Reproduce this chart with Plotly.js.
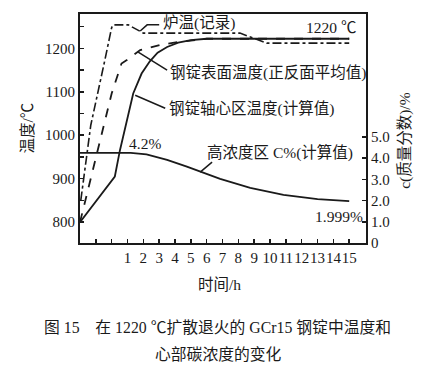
<!DOCTYPE html>
<html>
<head>
<meta charset="utf-8">
<script src="https://cdn.plot.ly/plotly-3.0.1.min.js"></script>
<style>html,body{margin:0;padding:0;background:#fff;}#chart{width:430px;height:369px;}</style>
</head>
<body>
<div id="chart"></div>
<script>
// Time (h)
const furnaceTime = [-1.95, -1.32, -0.43, 0.0, 0.1, 1.05, 2.0, 8.1, 9.8, 15.0];
const furnaceTemp = [850, 1023, 1173, 1248, 1254, 1254, 1235, 1235, 1212, 1212];

const surfaceTime = [-2.0, 0.0, 0.62, 0.96, 1.8, 3.06, 4.3, 6.0, 15.0];
const surfaceTemp = [800, 1096, 1165, 1173, 1196, 1208, 1215, 1222, 1222];

const coreTime = [-2.0, 0.2, 0.52, 0.94, 1.36, 1.89, 2.41, 2.9, 3.5, 4.2, 5.0, 6.0, 15.0];
const coreTemp = [800, 905, 965, 1034, 1096, 1142, 1170, 1190, 1203, 1213, 1219, 1222, 1222];

const carbonTime = [-2.0, 1.2, 2.2, 3.5, 4.75, 5.6, 6.85, 8.75, 10.85, 13.0, 15.0];
const carbonPct  = [4.25, 4.25, 4.18, 3.92, 3.6, 3.38, 3.02, 2.6, 2.27, 2.07, 1.97];

const xTickVals = [-1,0,1,2,3,4,5,6,7,8,9,10,11,12,13,14,15];
const xTickText = ['','','1','2','3','4','5','6','7','8','9','10','11','12','13','14','15'];
const yTickVals = [800,850,900,950,1000,1050,1100,1150,1200,1250];
const yTickText = ['800','','900','','1000','','1100','','1200',''];
const y2TickVals = [0,1,2,3,4,5];
const y2TickText = ['0','1.0','2.0','3.0','4.0','5.0'];

const FONT = "'Liberation Serif', 'Noto Sans CJK SC', serif";
const INK = '#1a1a1a';

const traces = [
  {x: furnaceTime, y: furnaceTemp, mode:'lines', line:{color:INK, width:1.6, dash:'dashdot'}, name:'炉温(记录)'},
  {x: surfaceTime, y: surfaceTemp, mode:'lines', line:{color:INK, width:1.8, dash:'dash'}, name:'钢锭表面温度(正反面平均值)'},
  {x: coreTime, y: coreTemp, mode:'lines', line:{color:INK, width:1.8}, name:'钢锭轴心区温度(计算值)'},
  {x: carbonTime, y: carbonPct, yaxis:'y2', mode:'lines', line:{color:INK, width:1.8}, name:'高浓度区 C%(计算值)'}
];

const tf = {family: FONT, size: 15.5, color: INK};
function txt(x, y, text, yref, xanchor){
  return {x:x, y:y, xref:'x', yref:yref||'y', text:text, showarrow:false, xanchor:xanchor||'left', yanchor:'middle', font:tf};
}

const layout = {
  width:430, height:369,
  margin:{l:80, r:64, t:14, b:126},
  paper_bgcolor:'#fff', plot_bgcolor:'#fff',
  showlegend:false,
  xaxis:{range:[-2,16.06], tickvals:xTickVals, ticktext:xTickText, tickangle:0, ticks:'inside', ticklen:4, tickwidth:1.5, tickcolor:INK,
         showline:true, linecolor:INK, linewidth:2, mirror:true, showgrid:false, zeroline:false,
         tickfont:{family:FONT, size:15, color:INK}},
  yaxis:{range:[752,1279], tickvals:yTickVals, ticktext:yTickText, ticks:'inside', ticklen:4, tickwidth:1.5, tickcolor:INK,
         showline:true, linecolor:INK, linewidth:2, showgrid:false, zeroline:false,
         tickfont:{family:FONT, size:15, color:INK}},
  yaxis2:{range:[0,10.79], overlaying:'y', side:'right', tickvals:y2TickVals, ticktext:y2TickText, ticks:'inside', ticklen:4, tickwidth:1.5, tickcolor:INK,
          showline:true, linecolor:INK, linewidth:2, showgrid:false, zeroline:false,
          tickfont:{family:FONT, size:15, color:INK}},
  shapes:[
    {type:'path', xref:'x', yref:'y', path:'M 1.8,1240 L 2.24,1254 L 3.0,1254', line:{color:INK, width:1.5}},
    {type:'line', xref:'x', yref:'y', x0:1.675, y0:1191.5, x1:3.5, y1:1150, line:{color:INK, width:1.5}},
    {type:'line', xref:'x', yref:'y', x0:1.486, y0:1092, x1:3.38, y1:1062, line:{color:INK, width:1.5}},
    {type:'line', xref:'x', yref:'y2', x0:5.59, y0:3.34, x1:6.34, y1:3.81, line:{color:INK, width:1.5}}
  ],
  annotations:[
    txt(3.1, 1258, '炉温(记录)'),
    txt(12.14, 1249, '1220 ℃'),
    txt(3.57, 1143, '钢锭表面温度(正反面平均值)'),
    txt(3.5, 1062, '钢锭轴心区温度(计算值)'),
    txt(2.12, 981, '4.2%', 'y', 'center'),
    txt(5.9, 4.28, '高浓度区 C%(计算值)', 'y2'),
    txt(12.71, 1.26, '1.999%', 'y2'),
    {xref:'paper', yref:'paper', x:-0.185, y:0.5, text:'温度/℃', textangle:-90, showarrow:false,
     xanchor:'center', yanchor:'middle', font:{family:FONT, size:15.5, color:INK}},
    {xref:'paper', yref:'paper', x:1.136, y:0.45, text:'c(质量分数)/%', textangle:-90, showarrow:false,
     xanchor:'center', yanchor:'middle', font:{family:FONT, size:15.5, color:INK}},
    {xref:'paper', yref:'paper', x:0.4895, y:-0.18, text:'时间/h', showarrow:false,
     xanchor:'center', yanchor:'middle', font:{family:FONT, size:15.5, color:INK}},
    {xref:'paper', yref:'paper', x:0.4825, y:-0.367, text:'图 15    在 1220 ℃扩散退火的 GCr15 钢锭中温度和', showarrow:false,
     xanchor:'center', yanchor:'middle', font:{family:FONT, size:15.8, color:INK}},
    {xref:'paper', yref:'paper', x:0.486, y:-0.489, text:'心部碳浓度的变化', showarrow:false,
     xanchor:'center', yanchor:'middle', font:{family:FONT, size:15.8, color:INK}}
  ]
};

Plotly.newPlot('chart', traces, layout, {staticPlot:true, displayModeBar:false});
</script>
</body>
</html>
